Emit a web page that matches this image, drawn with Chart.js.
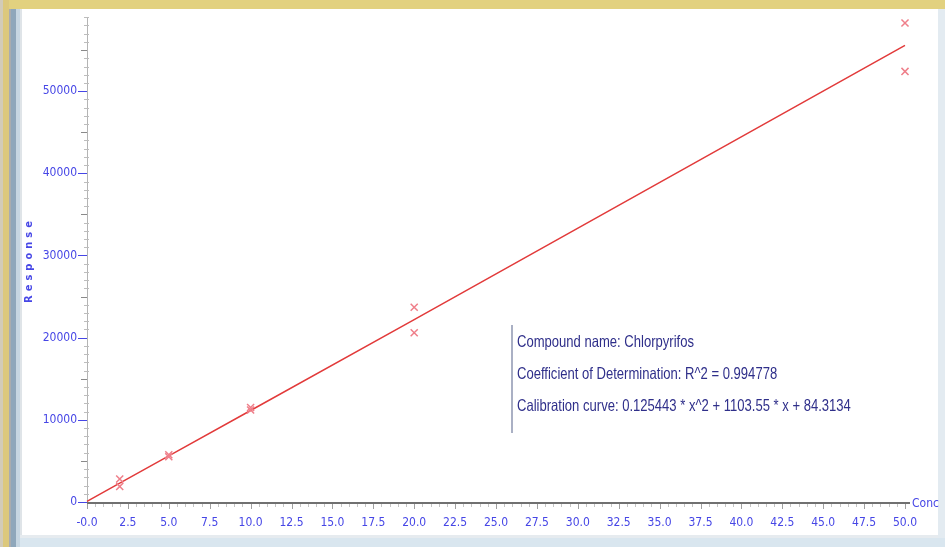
<!DOCTYPE html>
<html>
<head>
<meta charset="utf-8">
<title>Chlorpyrifos calibration</title>
<script src="https://cdn.jsdelivr.net/npm/chart.js@4.4.1/dist/chart.umd.min.js"></script>
<style>
  html, body { margin: 0; padding: 0; background: #ffffff; }
  #wrap { position: relative; width: 945px; height: 547px; }
  canvas { display: block; }
</style>
</head>
<body>
<div id="wrap"><canvas id="cal" width="945" height="547"></canvas></div>
<script>
// Calibration levels (Conc) and measured responses, two injections per level
const concLevels   = [2, 2, 5, 5, 10, 10, 20, 20, 50, 50];
const responses    = [2800, 1900, 5750, 5500, 11500, 11200, 23700, 20600, 58300, 52400];

// Fitted calibration curve coefficients: a*x^2 + b*x + c
const fitA = 0.125443;
const fitB = 1103.55;
const fitC = 84.3134;
const fitConc = [0, 2, 5, 10, 20, 50];

// Axis tick values and labels
const xTickValues = [0, 2.5, 5, 7.5, 10, 12.5, 15, 17.5, 20, 22.5, 25, 27.5, 30,
                     32.5, 35, 37.5, 40, 42.5, 45, 47.5, 50];
const xTickLabels = ['-0.0', '2.5', '5.0', '7.5', '10.0', '12.5', '15.0', '17.5', '20.0',
                     '22.5', '25.0', '27.5', '30.0', '32.5', '35.0', '37.5', '40.0',
                     '42.5', '45.0', '47.5', '50.0'];
const yTickValues = [0, 10000, 20000, 30000, 40000, 50000];
const yTickLabels = ['0', '10000', '20000', '30000', '40000', '50000'];

const infoLines = [
  'Compound name: Chlorpyrifos',
  'Coefficient of Determination: R^2 = 0.994778',
  'Calibration curve: 0.125443 * x^2 + 1103.55 * x + 84.3134'
];

const pointData = concLevels.map((c, i) => ({ x: c, y: responses[i] }));
const curveData = fitConc.map(c => ({ x: c, y: fitA * c * c + fitB * c + fitC }));

const labelFont = '"DejaVu Sans Condensed", "DejaVu Sans", sans-serif';
const infoFont = '"Liberation Sans", Arial, sans-serif';
const tickBlue = '#4646e6';

// Window frame around the plot panel
const framePlugin = {
  id: 'frame',
  beforeDraw(chart) {
    const ctx = chart.ctx;
    ctx.save();
    ctx.fillStyle = '#ffffff';
    ctx.fillRect(0, 0, 945, 547);
    // top band
    ctx.fillStyle = '#e2d17f';
    ctx.fillRect(0, 0, 945, 9);
    // left strips
    ctx.fillStyle = '#d2cbb8'; ctx.fillRect(0, 0, 3, 547);
    ctx.fillStyle = '#dcc87c'; ctx.fillRect(3, 0, 6, 547);
    ctx.fillStyle = '#a9acaf'; ctx.fillRect(9, 9, 2, 538);
    ctx.fillStyle = '#8fa7bb'; ctx.fillRect(11, 9, 5, 538);
    ctx.fillStyle = '#c6d6e2'; ctx.fillRect(16, 9, 4, 538);
    ctx.fillStyle = '#dfe4e8'; ctx.fillRect(20, 9, 2, 538);
    // bottom band
    ctx.fillStyle = '#e6ebef'; ctx.fillRect(20, 535, 925, 3);
    ctx.fillStyle = '#d9e6ef'; ctx.fillRect(20, 538, 925, 9);
    // right strip
    ctx.fillStyle = '#e3ebf1'; ctx.fillRect(938, 9, 7, 529);
    ctx.restore();
  }
};

// Axis lines, tick marks, axis titles and the fit summary box
const axesPlugin = {
  id: 'axesDecor',
  beforeDatasetsDraw(chart) {
    const ctx = chart.ctx;
    const xs = chart.scales.x, ys = chart.scales.y;
    const x0 = xs.getPixelForValue(0);
    const y0 = ys.getPixelForValue(0);
    const yTop = ys.top;
    ctx.save();

    // y axis line and ticks
    ctx.strokeStyle = '#b4b4b4';
    ctx.lineWidth = 1;
    ctx.beginPath();
    ctx.moveTo(Math.round(x0) + 0.5, yTop);
    ctx.lineTo(Math.round(x0) + 0.5, y0);
    ctx.stroke();
    for (let v = 0; v <= 59000; v += 1000) {
      const py = Math.round(ys.getPixelForValue(v)) + 0.5;
      const xr = Math.round(x0);
      ctx.beginPath();
      if (v % 10000 === 0) {
        ctx.strokeStyle = tickBlue;
        ctx.moveTo(xr - 9, py); ctx.lineTo(xr, py);
      } else if (v % 5000 === 0) {
        ctx.strokeStyle = '#8a8a8a';
        ctx.moveTo(xr - 6, py); ctx.lineTo(xr, py);
      } else {
        ctx.strokeStyle = '#bdbdbd';
        ctx.moveTo(xr - 3, py); ctx.lineTo(xr + 2, py);
      }
      ctx.stroke();
    }

    // x axis line and ticks
    ctx.strokeStyle = '#707070';
    ctx.lineWidth = 2;
    ctx.beginPath();
    ctx.moveTo(x0, Math.round(y0) + 1);
    ctx.lineTo(xs.getPixelForValue(50) + 5, Math.round(y0) + 1);
    ctx.stroke();
    ctx.lineWidth = 1;
    for (let i = 0; i <= 100; i++) {
      const v = i * 0.5;
      const px = Math.round(xs.getPixelForValue(v)) + 0.5;
      const major = i % 5 === 0;
      ctx.strokeStyle = major ? '#a0a0a0' : '#c4c4c4';
      ctx.beginPath();
      ctx.moveTo(px, Math.round(y0) + 2);
      ctx.lineTo(px, Math.round(y0) + (major ? 7 : 5));
      ctx.stroke();
    }

    // axis titles
    ctx.fillStyle = tickBlue;
    ctx.font = '12px ' + labelFont;
    ctx.textBaseline = 'middle';
    ctx.textAlign = 'left';
    ctx.fillText('Conc', xs.getPixelForValue(50) + 7, y0 + 2);

    ctx.save();
    ctx.translate(29, 260);
    ctx.rotate(-Math.PI / 2);
    ctx.textAlign = 'center';
    ctx.font = 'bold 11px ' + labelFont;
    ctx.letterSpacing = '4px';
    ctx.fillText('Response', 0, 0);
    ctx.restore();

    // fit summary
    ctx.fillStyle = '#aab0c4';
    ctx.fillRect(511, 325, 2, 108);
    ctx.fillStyle = '#2f2f8a';
    ctx.font = '14.5px ' + infoFont;
    ctx.textAlign = 'left';
    ctx.textBaseline = 'middle';
    infoLines.forEach((t, i) => {
      ctx.save();
      ctx.translate(517, 343 + i * 32);
      ctx.scale(0.9, 1.08);
      ctx.fillText(t, 0, 0);
      ctx.restore();
    });

    ctx.restore();
  }
};

new Chart(document.getElementById('cal'), {
  type: 'scatter',
  data: {
    datasets: [
      {
        label: 'Calibration curve',
        data: curveData,
        showLine: true,
        borderColor: '#e23a3a',
        borderWidth: 1.5,
        pointRadius: 0,
        tension: 0,
        clip: false,
        order: 2
      },
      {
        label: 'Responses',
        data: pointData,
        showLine: false,
        pointStyle: 'crossRot',
        pointRadius: 5,
        borderColor: '#ef7f8a',
        borderWidth: 1.5,
        clip: false,
        order: 1
      }
    ]
  },
  options: {
    responsive: false,
    animation: false,
    devicePixelRatio: 1,
    layout: { padding: { left: 0, top: 15, right: 40, bottom: 0 } },
    plugins: {
      legend: { display: false },
      tooltip: { enabled: false },
      title: { display: false }
    },
    scales: {
      x: {
        type: 'linear',
        min: 0,
        max: 50,
        border: { display: false },
        grid: { display: false, drawTicks: false },
        afterFit(s) { s.height = 45; },
        afterBuildTicks(s) { s.ticks = xTickValues.map(v => ({ value: v })); },
        ticks: {
          autoSkip: false,
          maxRotation: 0,
          padding: 14,
          color: tickBlue,
          font: { family: labelFont, size: 12 },
          callback: (v) => {
            const i = xTickValues.indexOf(v);
            return i >= 0 ? xTickLabels[i] : '';
          }
        }
      },
      y: {
        type: 'linear',
        min: 0,
        max: 59000,
        border: { display: false },
        grid: { display: false, drawTicks: false },
        afterFit(s) { s.width = 87; },
        afterBuildTicks(s) { s.ticks = yTickValues.map(v => ({ value: v })); },
        ticks: {
          autoSkip: false,
          padding: 10,
          color: tickBlue,
          font: { family: labelFont, size: 12 },
          callback: (v) => {
            const i = yTickValues.indexOf(v);
            return i >= 0 ? yTickLabels[i] : '';
          }
        }
      }
    }
  },
  plugins: [framePlugin, axesPlugin]
});
</script>
</body>
</html>
